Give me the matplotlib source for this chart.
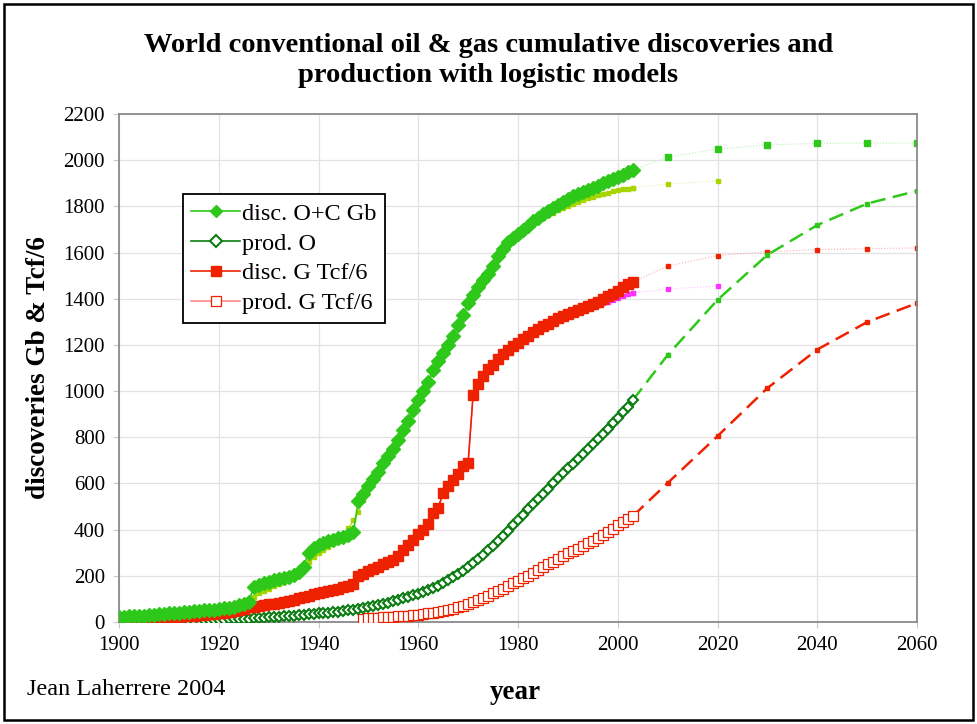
import matplotlib
matplotlib.use("Agg")
import matplotlib.pyplot as plt
from matplotlib.patches import Rectangle

plt.rcParams['font.family'] = ['Liberation Serif', 'DejaVu Serif']

# ---- historical series (annual) ----
years = list(range(1900, 2004))

disc_oc = [20, 22, 24, 25, 27, 28, 30, 31, 33, 35,
           37, 38, 40, 42, 44, 46, 48, 50, 52, 54,
           56, 59, 62, 66, 72, 80, 88, 150, 160, 168,
           175, 180, 185, 190, 196, 205, 215, 240, 300, 320,
           335, 342, 350, 355, 362, 370, 378, 390, 525, 555,
           590, 620, 650, 690, 720, 750, 790, 830, 870, 920,
           960, 1000, 1040, 1090, 1130, 1165, 1200, 1240, 1285, 1330,
           1380, 1415, 1450, 1480, 1505, 1540, 1585, 1615, 1645, 1665,
           1680, 1697, 1715, 1735, 1750, 1765, 1780, 1795, 1808, 1820,
           1832, 1843, 1853, 1862, 1872, 1880, 1890, 1900, 1910, 1918,
           1927, 1937, 1947, 1957]

disc_oc_mean = [19, 21, 23, 24, 26, 27, 29, 30, 32, 34,
                36, 37, 39, 41, 43, 45, 47, 49, 51, 53,
                55, 58, 61, 65, 70, 76, 84, 110, 125, 135,
                145, 155, 165, 175, 185, 195, 210, 235, 260, 280,
                300, 312, 325, 340, 355, 370, 405, 440, 476, 530,
                575, 610, 645, 685, 715, 745, 785, 825, 865, 915,
                955, 995, 1035, 1085, 1125, 1160, 1195, 1235, 1280, 1325,
                1375, 1410, 1445, 1475, 1500, 1535, 1578, 1608, 1638, 1658,
                1672, 1690, 1707, 1722, 1735, 1750, 1762, 1773, 1784, 1794,
                1803, 1812, 1820, 1828, 1835, 1842, 1849, 1855, 1860, 1865,
                1870, 1874, 1877, 1880]

disc_g = [10, 11, 12, 13, 14, 15, 16, 17, 18, 19,
          20, 21, 23, 24, 26, 28, 30, 32, 34, 36,
          38, 41, 44, 48, 53, 58, 63, 67, 70, 73,
          76, 80, 84, 88, 92, 96, 102, 108, 114, 120,
          125, 130, 135, 140, 145, 150, 158, 165, 200, 210,
          220, 230, 240, 250, 260, 270, 285, 310, 335, 355,
          380, 400, 425, 470, 495, 560, 590, 615, 640, 675,
          690, 985, 1030, 1065, 1095, 1115, 1140, 1160, 1178, 1195,
          1210, 1225, 1240, 1255, 1268, 1280, 1292, 1303, 1315, 1325,
          1335, 1343, 1352, 1360, 1368, 1377, 1387, 1397, 1410, 1422,
          1435, 1450, 1462, 1472]

disc_g_mean = [10, 11, 12, 13, 14, 15, 16, 17, 18, 19,
               20, 21, 23, 24, 26, 28, 30, 32, 34, 36,
               38, 41, 44, 48, 53, 58, 63, 67, 70, 73,
               76, 80, 84, 88, 92, 96, 102, 108, 114, 120,
               125, 130, 135, 140, 145, 150, 158, 165, 200, 210,
               220, 230, 240, 250, 260, 270, 285, 312, 338, 358,
               383, 405, 430, 470, 495, 560, 590, 615, 640, 675,
               690, 985, 1030, 1065, 1095, 1115, 1140, 1160, 1178, 1195,
               1210, 1225, 1240, 1255, 1268, 1280, 1292, 1303, 1315, 1325,
               1333, 1340, 1347, 1354, 1360, 1366, 1373, 1380, 1388, 1396,
               1404, 1412, 1419, 1425]

prod_o = [1, 1, 1, 2, 2, 2, 3, 3, 3, 4,
          4, 4, 5, 5, 6, 6, 7, 7, 8, 8,
          9, 10, 11, 12, 13, 14, 15, 16, 17, 19,
          20, 21, 23, 24, 25, 27, 29, 31, 33, 35,
          37, 39, 41, 43, 45, 48, 51, 54, 58, 61,
          65, 69, 74, 79, 84, 90, 96, 102, 108, 115,
          122, 130, 139, 148, 158, 169, 181, 193, 207, 222,
          238, 255, 273, 292, 312, 331, 352, 374, 396, 419,
          441, 465, 488, 510, 532, 555, 577, 600, 622, 645,
          665, 686, 706, 727, 748, 770, 792, 814, 837, 860,
          884, 908, 933, 960]

years_pg = list(range(1949, 2004))
prod_g = [14, 16, 17, 18, 20, 21, 22, 24, 26, 28,
          30, 32, 35, 38, 41, 45, 49, 53, 58, 64,
          70, 80, 87, 95, 104, 114, 125, 135, 145, 156,
          167, 178, 189, 201, 213, 225, 237, 249, 261, 273,
          285, 297, 308, 318, 328, 340, 352, 365, 378, 391,
          404, 418, 432, 446, 458]

# ---- logistic model extensions ----
years_model = [2003, 2010, 2020, 2030, 2040, 2050, 2060]
disc_oc_model = [1957, 2014, 2048, 2066, 2073, 2074, 2075]
disc_g_model = [1472, 1541, 1587, 1603, 1613, 1617, 1620]
prod_o_model = [960, 1156, 1395, 1590, 1719, 1812, 1867]
prod_g_model = [458, 602, 805, 1013, 1180, 1299, 1381]

years_mean_ext = [2003, 2010, 2020]
disc_oc_mean_ext = [1880, 1897, 1910]
disc_g_mean_ext = [1425, 1442, 1455]

x_ticks = [1900, 1920, 1940, 1960, 1980, 2000, 2020, 2040, 2060]
y_ticks = list(range(0, 2201, 200))

GREEN = '#2ec81a'
DKGREEN = '#0c7c12'
YLGREEN = '#a8d400'
RED = '#ee2200'
PINK = '#ff8a8a'
MAGENTA = '#ff33ff'

fig = plt.figure(figsize=(9.77, 7.24), dpi=100)
ax = fig.add_axes([0.1218, 0.1409, 0.8168, 0.7016])

# model extensions
ax.plot(years_mean_ext, disc_oc_mean_ext, ls=':', lw=0.8, color='#e0f0a0',
        marker='s', ms=2.5, mfc=YLGREEN, mec=YLGREEN, zorder=2)
ax.plot(years_mean_ext, disc_g_mean_ext, ls=':', lw=0.8, color='#ffc0ff',
        marker='s', ms=3.5, mfc=MAGENTA, mec=MAGENTA, zorder=2)
ax.plot(years_model, disc_oc_model, ls=':', lw=0.8, color='#b8f0b0',
        marker='s', ms=4, mfc=GREEN, mec=GREEN, markevery=list(range(1, 7)), zorder=2)
ax.plot(years_model, disc_g_model, ls=':', lw=0.8, color='#ffb0b0',
        marker='s', ms=2.8, mfc=RED, mec=RED, markevery=list(range(1, 7)), zorder=2)
ax.plot(years_model, prod_o_model, ls=(0, (6, 3)), lw=1.8, color=GREEN,
        marker='s', ms=2.5, mfc=GREEN, mec=GREEN, markevery=list(range(1, 7)), zorder=2)
ax.plot(years_model, prod_g_model, ls=(0, (6, 3)), lw=1.8, color=RED,
        marker='s', ms=2.5, mfc=RED, mec=RED, markevery=list(range(1, 7)), zorder=2)

# historical series
ax.plot(years, disc_oc_mean, color=YLGREEN, lw=0.8, marker='s', ms=2.5,
        mfc=YLGREEN, mec=YLGREEN, zorder=3)
ax.plot(years, disc_g_mean, color=MAGENTA, lw=0.8, marker='s', ms=3.5,
        mfc=MAGENTA, mec=MAGENTA, zorder=3)
ax.plot(years_pg, prod_g, color=PINK, lw=1.2, marker='s', ms=7,
        mfc='white', mec=RED, mew=0.9, label='prod. G Tcf/6', zorder=4)
ax.plot(years, prod_o, color=DKGREEN, lw=1.2, marker='D', ms=4.8,
        mfc='white', mec=DKGREEN, mew=1.5, label='prod. O', zorder=5)
ax.plot(years, disc_g, color=RED, lw=1.2, marker='s', ms=7.5,
        mfc=RED, mec=RED, label='disc. G Tcf/6', zorder=6)
ax.plot(years, disc_oc, color=GREEN, lw=1.2, marker='D', ms=7.5,
        mfc=GREEN, mec=GREEN, label='disc. O+C Gb', zorder=7)

ax.set_xlim(1900, 2060)
ax.set_ylim(0, 2200)
ax.set_xticks(x_ticks)
ax.set_yticks(y_ticks)
ax.tick_params(labelsize=15, length=4, color='#c8c8c8', pad=6)
ax.grid(True, color='#e2e2e2', lw=0.9)
ax.set_axisbelow(True)
for s in ax.spines.values():
    s.set_color('#8a8a8a')
    s.set_linewidth(1.3)

handles, labels = ax.get_legend_handles_labels()
order = ['disc. O+C Gb', 'prod. O', 'disc. G Tcf/6', 'prod. G Tcf/6']
hmap = dict(zip(labels, handles))
leg = ax.legend([hmap[k] for k in order], order, loc='upper left',
                bbox_to_anchor=(0.080, 0.842), fontsize=17.5, frameon=True,
                fancybox=False, edgecolor='black', framealpha=1,
                handlelength=2.0, handletextpad=0.1, borderpad=0.35,
                labelspacing=0.32, borderaxespad=0)
leg.get_frame().set_linewidth(1.3)
for h in leg.legend_handles:
    h.set_markersize(6.5)

fig.text(0.5, 0.916, "World conventional oil & gas cumulative discoveries and\nproduction with logistic models",
         ha='center', va='center', fontsize=20.5, fontweight='bold', linespacing=1.25)
fig.text(0.039, 0.4917, "discoveries Gb & Tcf/6", rotation=90, ha='center', va='center',
         fontsize=19.5, fontweight='bold')
fig.text(0.527, 0.044, "year", ha='center', va='center', fontsize=19.5, fontweight='bold')
fig.text(0.0276, 0.047, "Jean Laherrere 2004", ha='left', va='center', fontsize=17.5)

fig.patches.append(Rectangle((0.004, 0.006), 0.992, 0.988, transform=fig.transFigure,
                             fill=False, edgecolor='black', lw=1.8))

fig.savefig("out.png", dpi=100)
